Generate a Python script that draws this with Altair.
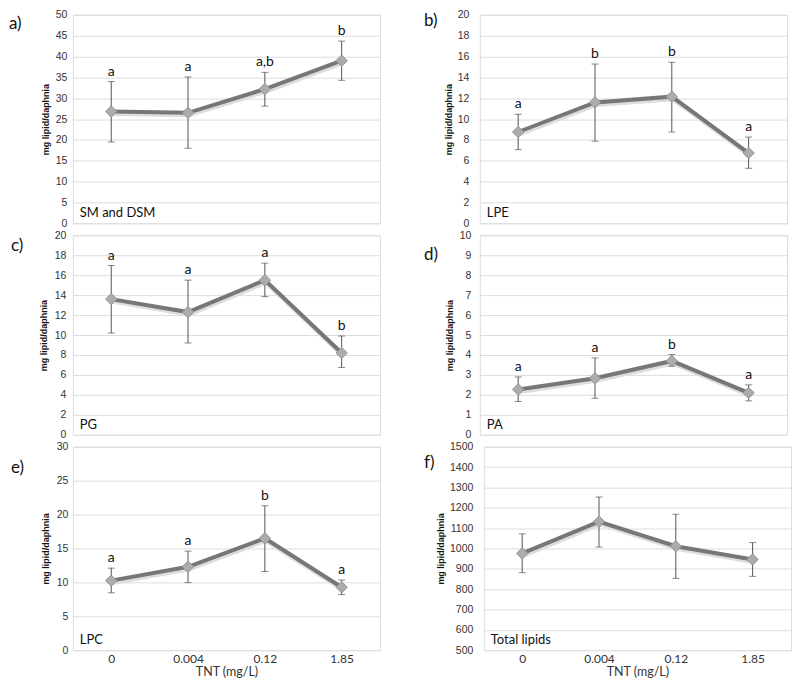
import altair as alt
import pandas as pd

conc = ["0", "0.004", "0.12", "1.85"]

# a) SM and DSM
a_mean = [26.8, 26.5, 32.2, 39.0]
a_hi = [34.0, 35.1, 36.2, 43.7]
a_lo = [19.5, 18.0, 28.1, 34.3]
a_sig = ["a", "a", "a,b", "b"]
a_ticks = [0, 5, 10, 15, 20, 25, 30, 35, 40, 45, 50]

# b) LPE
b_mean = [8.76, 11.6, 12.15, 6.74]
b_hi = [10.46, 15.28, 15.45, 8.27]
b_lo = [7.07, 7.88, 8.76, 5.28]
b_sig = ["a", "b", "b", "a"]
b_ticks = [0, 2, 4, 6, 8, 10, 12, 14, 16, 18, 20]

# c) PG
c_mean = [13.6, 12.3, 15.5, 8.2]
c_hi = [16.97, 15.5, 17.2, 9.9]
c_lo = [10.2, 9.2, 13.85, 6.75]
c_sig = ["a", "a", "a", "b"]
c_ticks = [0, 2, 4, 6, 8, 10, 12, 14, 16, 18, 20]

# d) PA
d_mean = [2.27, 2.83, 3.7, 2.1]
d_hi = [2.9, 3.85, 4.02, 2.5]
d_lo = [1.67, 1.83, 3.43, 1.7]
d_sig = ["a", "a", "b", "a"]
d_ticks = [0, 1, 2, 3, 4, 5, 6, 7, 8, 9, 10]

# e) LPC
e_mean = [10.26, 12.3, 16.5, 9.28]
e_hi = [12.1, 14.6, 21.3, 10.35]
e_lo = [8.46, 9.97, 11.6, 8.2]
e_sig = ["a", "a", "b", "a"]
e_ticks = [0, 5, 10, 15, 20, 25, 30]

# f) Total lipids
f_mean = [976, 1132, 1011, 946]
f_hi = [1072, 1253, 1168, 1029]
f_lo = [881, 1007, 853, 863]
f_sig = ["", "", "", ""]
f_ticks = [500, 600, 700, 800, 900, 1000, 1100, 1200, 1300, 1400, 1500]

W = 308


def panel(tag, name, mean, lo, hi, sig, yticks, h, bottom, tag_x, tag_y,
          lab_pad, title_pad):
    df = pd.DataFrame({"conc": conc, "mean": mean, "lo": lo, "hi": hi, "sig": sig})
    xscale = alt.Scale(type="point", padding=0.5, domain=conc)
    if bottom:
        xaxis = alt.Axis(title="TNT (mg/L)", labelAngle=0, ticks=False, domain=False,
                         grid=False, labelPadding=3, titlePadding=1,
                         labelFont="Lato", labelFontSize=12, labelColor="#333",
                         titleFont="Lato", titleFontSize=12.5, titleColor="#333",
                         titleFontWeight="normal")
    else:
        xaxis = None
    x = alt.X("conc:N", sort=conc, scale=xscale, axis=xaxis)
    yscale = alt.Scale(domain=[yticks[0], yticks[-1]], nice=False, zero=False)
    yaxis = alt.Axis(values=yticks, format="d", title="mg lipid/daphnia", ticks=False,
                     domain=False, grid=True, gridColor="#dddddd", labelPadding=lab_pad,
                     titlePadding=title_pad, labelFont="Liberation Sans",
                     labelFontSize=10.5, labelColor="#333", titleFont="Liberation Sans",
                     titleFontSize=9, titleFontWeight="bold", titleColor="#111")

    def Y(f):
        return alt.Y(f + ":Q", scale=yscale, axis=yaxis)

    base = alt.Chart(df)
    shadow = base.mark_line(color="#dddddd", strokeWidth=5, xOffset=1, yOffset=2).encode(
        x=x, y=Y("mean"))
    rule = base.mark_rule(color="#555555", strokeWidth=1).encode(
        x=x, y=Y("lo"), y2="hi:Q")
    cap_hi = base.mark_tick(orient="horizontal", size=7, thickness=1, color="#555555").encode(
        x=x, y=Y("hi"))
    cap_lo = base.mark_tick(orient="horizontal", size=7, thickness=1, color="#555555").encode(
        x=x, y=Y("lo"))
    line = base.mark_line(color="#777777", strokeWidth=4).encode(x=x, y=Y("mean"))
    pts = base.mark_point(shape="diamond", filled=True, size=130, color="#acacac",
                          stroke="#959595", strokeWidth=1, opacity=1).encode(
        x=x, y=Y("mean"))
    layers = [shadow, rule, cap_hi, cap_lo, line, pts]
    if any(s for s in sig):
        letters = base.mark_text(baseline="bottom", dy=-3, font="Lato", fontSize=14,
                                 color="#111").encode(x=x, y=Y("hi"), text="sig:N")
        layers.append(letters)
    name_lbl = alt.Chart(pd.DataFrame({"t": [name]})).mark_text(
        align="left", baseline="middle", font="Lato", fontSize=13, color="#111").encode(
        x=alt.value(7), y=alt.value(h - 10), text="t:N")
    tag_lbl = alt.Chart(pd.DataFrame({"t": [tag]})).mark_text(
        align="left", baseline="middle", font="Lato", fontSize=17, color="#111").encode(
        x=alt.value(tag_x), y=alt.value(tag_y), text="t:N")
    layers += [name_lbl, tag_lbl]
    return alt.layer(*layers).properties(width=W, height=h)


pa = panel("a)", "SM and DSM", a_mean, a_lo, a_hi, a_sig, a_ticks, 209, False, -64, 9, 6, 5)
pb = panel("b)", "LPE", b_mean, b_lo, b_hi, b_sig, b_ticks, 209, False, -56, 6, 11, 4)
pc = panel("c)", "PG", c_mean, c_lo, c_hi, c_sig, c_ticks, 200, False, -62, 11, 7, 6)
pd_ = panel("d)", "PA", d_mean, d_lo, d_hi, d_sig, d_ticks, 200, False, -56, 20, 9, 5)
pe = panel("e)", "LPC", e_mean, e_lo, e_hi, e_sig, e_ticks, 204, True, -62, 21, 5, 6)
pf = panel("f)", "Total lipids", f_mean, f_lo, f_hi, f_sig, f_ticks, 204, True, -60, 16, 11, 4)

chart = alt.vconcat(
    alt.hconcat(pa, pb, spacing=42),
    alt.hconcat(pc, pd_, spacing=42),
    alt.hconcat(pe, pf, spacing=42),
    spacing=0,
    padding=0,
).configure_view(stroke="#858585", strokeWidth=1).configure(background="white")

chart.save("out.html", embed_options={"renderer": "svg", "actions": False})
